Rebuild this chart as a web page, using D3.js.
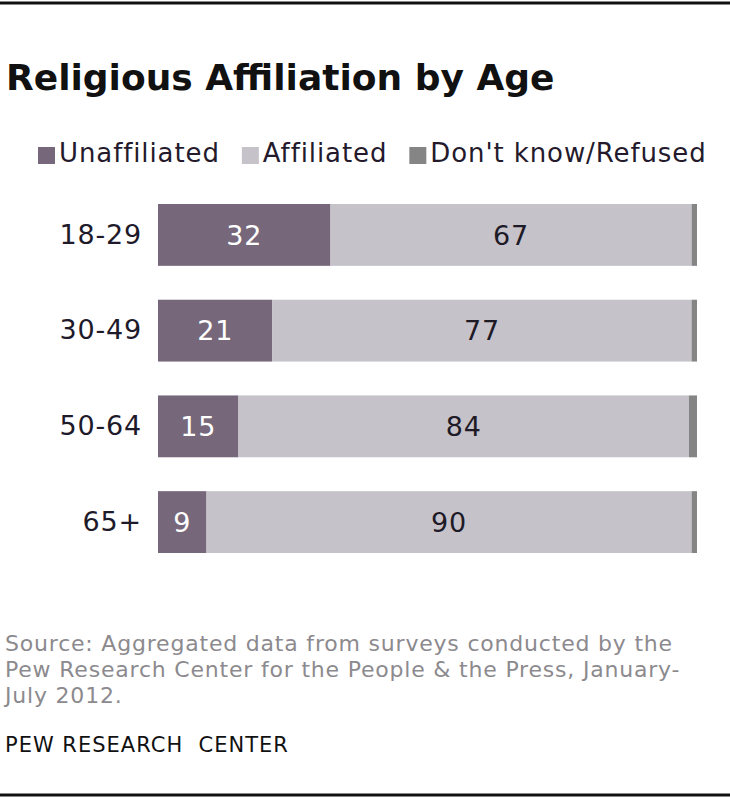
<!DOCTYPE html>
<html>
<head>
<meta charset="utf-8">
<script src="https://cdn.jsdelivr.net/npm/d3@7"></script>
<style>
  html, body { margin: 0; padding: 0; background: #fff; }
  svg { display: block; }
</style>
</head>
<body>
<script>
// ---- data ----
const ages = ["18-29", "30-49", "50-64", "65+"];
const unaffiliated = [32, 21, 15, 9];
const affiliated = [67, 77, 84, 90];
const dontKnow = [1, 1, 1.5, 1];
const seriesNames = ["Unaffiliated", "Affiliated", "Don't know/Refused"];
const seriesColors = ["#76687a", "#c6c2ca", "#858585"];
const titleText = "Religious Affiliation by Age";
const sourceLines = [
  "Source: Aggregated data from surveys conducted by the",
  "Pew Research Center for the People & the Press, January-",
  "July 2012."
];
const creditText = "PEW RESEARCH\u00a0\u00a0CENTER";

// ---- layout ----
const W = 730, H = 800;
const svg = d3.select("body").append("svg").attr("width", W).attr("height", H);
svg.append("rect").attr("width", W).attr("height", H).attr("fill", "#fff");

svg.append("line").attr("x1", 0).attr("x2", W).attr("y1", 3).attr("y2", 3)
  .attr("stroke", "#111").attr("stroke-width", 3);
svg.append("line").attr("x1", 0).attr("x2", W).attr("y1", 795).attr("y2", 795)
  .attr("stroke", "#111").attr("stroke-width", 3);

svg.append("text").attr("x", 6).attr("y", 90)
  .attr("font-family", "DejaVu Sans, sans-serif").attr("font-weight", 700)
  .attr("font-size", 36).attr("fill", "#111").text(titleText);

// legend
const legend = svg.append("g").attr("transform", "translate(38,153)");
let lx = 0;
seriesNames.forEach((name, i) => {
  const g = legend.append("g").attr("transform", `translate(${lx},0)`);
  g.append("rect").attr("x", 0).attr("y", -6).attr("width", 17).attr("height", 17)
    .attr("fill", seriesColors[i]);
  const t = g.append("text").attr("x", 21).attr("y", 0).attr("dy", "0.35em")
    .attr("font-family", "DejaVu Sans, sans-serif").attr("font-size", 26)
    .attr("letter-spacing", 0.9)
    .attr("fill", "#241a2c").text(name);
  lx += 21 + t.node().getComputedTextLength() + 22;
});

// scales
const x = d3.scaleLinear().domain([0, 1]).range([158, 697]);
const y = d3.scaleBand().domain(ages).range([204, 553]).paddingInner(0.354).paddingOuter(0);

const rows = ages.map((a, i) => ({
  age: a,
  "Unaffiliated": unaffiliated[i],
  "Affiliated": affiliated[i],
  "Don't know/Refused": dontKnow[i]
}));
const stacked = d3.stack().keys(seriesNames).offset(d3.stackOffsetExpand)(rows);

const layers = svg.append("g").selectAll("g").data(stacked).join("g")
  .attr("fill", (d, i) => seriesColors[i]);
layers.selectAll("rect").data(d => d).join("rect")
  .attr("x", d => x(d[0]))
  .attr("y", d => y(d.data.age))
  .attr("width", d => x(d[1]) - x(d[0]))
  .attr("height", y.bandwidth());

// value labels
stacked.slice(0, 2).forEach((layer, li) => {
  svg.append("g").selectAll("text").data(layer).join("text")
    .attr("x", d => (x(d[0]) + x(d[1])) / 2)
    .attr("y", d => y(d.data.age) + y.bandwidth() / 2)
    .attr("dy", "0.36em")
    .attr("text-anchor", "middle")
    .attr("font-family", "DejaVu Sans, sans-serif").attr("font-size", 27)
    .attr("letter-spacing", 0.8)
    .attr("fill", li === 0 ? "#ffffff" : "#1e1a26")
    .text(d => d.data[layer.key]);
});

// category axis
const yAxis = d3.axisLeft(y).tickSize(0).tickPadding(0);
const ga = svg.append("g").attr("transform", "translate(142,0)").call(yAxis);
ga.select(".domain").remove();
ga.selectAll("text").attr("font-family", "DejaVu Sans, sans-serif")
  .attr("font-size", 27).attr("letter-spacing", 0.8).attr("fill", "#1e1a2a");

// source
svg.append("g").selectAll("text").data(sourceLines).join("text")
  .attr("x", 5).attr("y", (d, i) => 651 + i * 26)
  .attr("font-family", "DejaVu Sans, sans-serif").attr("font-size", 22)
  .attr("letter-spacing", 0.8)
  .attr("fill", "#8c8a8e").text(d => d);

svg.append("text").attr("x", 5).attr("y", 752)
  .attr("font-family", "DejaVu Sans, sans-serif").attr("font-size", 21)
  .attr("letter-spacing", 1)
  .attr("fill", "#111").text(creditText);
</script>
</body>
</html>
